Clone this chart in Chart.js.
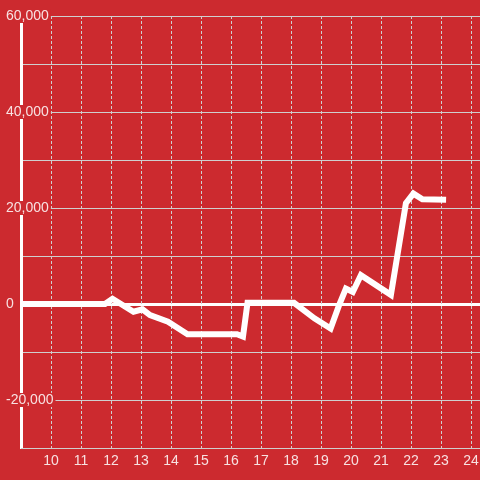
<!DOCTYPE html>
<html>
<head>
<meta charset="utf-8">
<script src="https://cdn.jsdelivr.net/npm/chart.js@4.4.1/dist/chart.umd.min.js"></script>
<style>
  html, body { margin: 0; padding: 0; background: #cc2a2f; }
  #wrap { width: 480px; height: 480px; }
</style>
</head>
<body>
<div id="wrap"><canvas id="chart" width="480" height="480"></canvas></div>
<script>
// x positions of the line's points (hours) and the matching values
const hours = [8.5, 11.8, 12.05, 12.75, 13.05, 13.3, 13.9, 14.55, 16.2, 16.4, 16.55,
  18.1, 18.78, 19.32, 19.6, 19.83, 20.06, 20.33, 21.33, 21.83, 22.08, 22.38, 23.17];
const values = [0, 0, 1100, -1600, -1100, -2300, -3700, -6300, -6300, -6800, 250,
  250, -3000, -5100, -300, 3200, 2500, 6000, 1900, 21000, 23000, 21800, 21700];

// axis ranges and tick settings
const xRange = [9, 24.3];
const yRange = [-30000, 60000];
const yStep = 10000;
const yLabelStep = 20000;

const red = '#cc2a2f';
const labelColor = 'rgba(255, 255, 255, 0.86)';
const gridColor = '#cfcfcf';
const fontFamily = '"Liberation Sans", Arial, sans-serif';

const points = hours.map((h, i) => ({ x: h, y: values[i] }));

new Chart(document.querySelector('#chart'), {
  type: 'line',
  data: {
    datasets: [
      {
        data: points,
        borderColor: '#ffffff',
        borderWidth: 6,
        pointRadius: 0,
        tension: 0,
        fill: false,
      },
    ],
  },
  options: {
    responsive: false,
    animation: false,
    devicePixelRatio: 1,
    layout: {
      padding: { left: 6, top: 16, right: 0, bottom: 0 },
    },
    plugins: {
      legend: { display: false },
      tooltip: { enabled: false },
    },
    scales: {
      // y first so the x grid is painted over the y label backdrops
      y: {
        type: 'linear',
        min: yRange[0],
        max: yRange[1],
        border: { color: '#ffffff', width: 3 },
        grid: {
          drawTicks: false,
          tickLength: 0,
          color: (ctx) => (ctx.tick && ctx.tick.value === 0 ? '#ffffff' : gridColor),
          lineWidth: (ctx) => (ctx.tick && ctx.tick.value === 0 ? 3 : 1),
        },
        ticks: {
          stepSize: yStep,
          mirror: true,
          crossAlign: 'near',
          padding: -15,
          color: labelColor,
          font: { family: fontFamily, size: 14, lineHeight: 1 },
          showLabelBackdrop: true,
          backdropColor: red,
          backdropPadding: { top: 0, bottom: 0, left: 2, right: 2 },
          callback: (v) => (v % yLabelStep === 0 ? v.toLocaleString('en-US') : ''),
        },
        // labels sit over the plot, so the axis only takes a fixed strip
        afterFit: (scale) => {
          scale.width = 15;
          scale.paddingTop = 0;
          scale.paddingBottom = 0;
        },
      },
      x: {
        type: 'linear',
        min: xRange[0],
        max: xRange[1],
        border: { color: gridColor, width: 1, dash: [3, 2] },
        grid: {
          drawTicks: false,
          tickLength: 0,
          color: (ctx) => (ctx.tick && ctx.tick.value < 10 ? 'rgba(0,0,0,0)' : gridColor),
          lineWidth: 1,
        },
        ticks: {
          stepSize: 1,
          includeBounds: false,
          autoSkip: false,
          maxRotation: 0,
          padding: 5,
          color: labelColor,
          font: { family: fontFamily, size: 14, lineHeight: 1.2 },
          callback: (v) => (v >= 10 ? String(v) : ''),
        },
        afterFit: (scale) => {
          scale.height = 32;
          scale.paddingLeft = 0;
          scale.paddingRight = 0;
        },
      },
    },
  },
});
</script>
</body>
</html>
